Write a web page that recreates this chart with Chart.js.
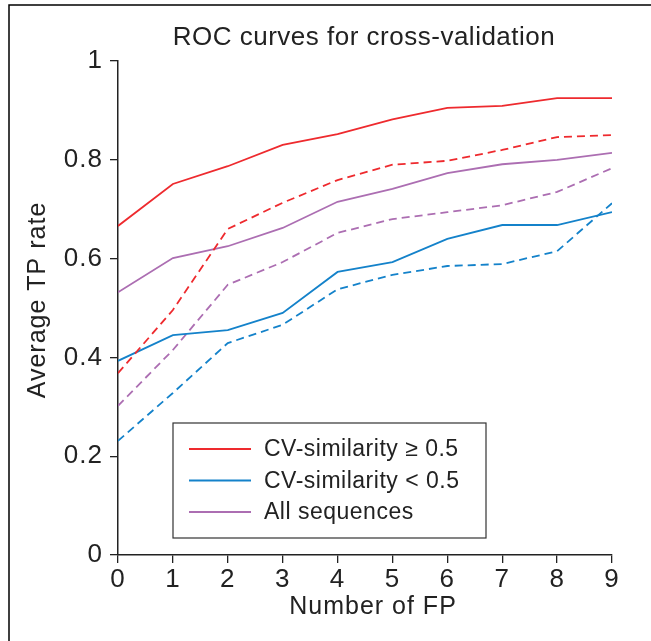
<!DOCTYPE html>
<html lang="en">
<head>
    <meta charset="UTF-8">
    <title>ROC curves for cross-validation</title>
    <style>
        body {
            margin: 0;
            padding: 0;
            background: #fff;
        }

        .wrap {
            width: 651px;
            height: 641px;
        }
    </style>
</head>
<body>
    <div class="wrap">
        <canvas id="roc" width="651" height="641"></canvas>
    </div>
    <script src="https://cdn.jsdelivr.net/npm/chart.js"></script>
    <script>
        const fpCounts = [0, 1, 2, 3, 4, 5, 6, 7, 8, 9];
        const yTicks = [0, 0.2, 0.4, 0.6, 0.8, 1];

        // solid = one validation set, dashed = the other
        const highSimSolid = [0.666, 0.751, 0.787, 0.830, 0.852, 0.882, 0.905, 0.909, 0.925, 0.925];
        const highSimDashed = [0.368, 0.496, 0.660, 0.713, 0.759, 0.790, 0.798, 0.820, 0.846, 0.850];
        const lowSimSolid = [0.393, 0.445, 0.455, 0.490, 0.573, 0.593, 0.640, 0.668, 0.668, 0.694];
        const lowSimDashed = [0.231, 0.328, 0.429, 0.466, 0.538, 0.567, 0.585, 0.589, 0.615, 0.712];
        const allSolid = [0.532, 0.601, 0.625, 0.662, 0.715, 0.741, 0.773, 0.791, 0.800, 0.814];
        const allDashed = [0.302, 0.415, 0.547, 0.593, 0.652, 0.680, 0.694, 0.708, 0.735, 0.783];

        const RED = 'rgb(238, 42, 46)';
        const BLUE = 'rgb(20, 130, 202)';
        const PURPLE = 'rgb(172, 110, 178)';
        const FONT = '"Liberation Sans", Arial, sans-serif';
        const INK = '#222';

        function series(label, values, color, dashed) {
            return {
                label: label,
                data: values.map((v, i) => ({ x: fpCounts[i], y: v })),
                borderColor: color,
                backgroundColor: color,
                borderWidth: 1.8,
                borderDash: dashed ? [8, 5] : [],
                pointRadius: 0,
                tension: 0,
                fill: false,
                showInLegend: !dashed
            };
        }

        const decorations = {
            id: 'decorations',
            beforeDraw(chart) {
                // slight extra tracking, as in the original figure
                chart.ctx.letterSpacing = '1px';
            },
            afterDraw(chart) {
                const ctx = chart.ctx;
                ctx.save();

                // figure frame (top and left only)
                ctx.strokeStyle = '#000';
                ctx.lineWidth = 1.5;
                ctx.beginPath();
                ctx.moveTo(9, 641);
                ctx.lineTo(9, 5);
                ctx.lineTo(651, 5);
                ctx.stroke();

                // title
                ctx.fillStyle = INK;
                ctx.font = '26px ' + FONT;
                ctx.letterSpacing = '0.5px';
                ctx.textAlign = 'center';
                ctx.textBaseline = 'middle';
                ctx.fillText('ROC curves for cross-validation', 364, 38);

                // axis titles
                ctx.font = '25px ' + FONT;
                ctx.letterSpacing = '1px';
                ctx.fillText('Number of FP', 373, 607);
                ctx.save();
                ctx.translate(38, 300);
                ctx.rotate(-Math.PI / 2);
                ctx.fillText('Average TP rate', 0, 0);
                ctx.restore();

                // legend
                const box = { x: 173, y: 423, w: 313, h: 115 };
                ctx.fillStyle = '#fff';
                ctx.fillRect(box.x, box.y, box.w, box.h);
                ctx.strokeStyle = '#333';
                ctx.lineWidth = 1.2;
                ctx.strokeRect(box.x, box.y, box.w, box.h);
                const shown = chart.data.datasets.filter(d => d.showInLegend);
                ctx.font = '23px ' + FONT;
                ctx.letterSpacing = '0.5px';
                ctx.textAlign = 'left';
                shown.forEach((d, i) => {
                    const y = box.y + 26 + i * 31.5;
                    ctx.strokeStyle = d.borderColor;
                    ctx.lineWidth = 1.8;
                    ctx.beginPath();
                    ctx.moveTo(189, y);
                    ctx.lineTo(251, y);
                    ctx.stroke();
                    ctx.fillStyle = INK;
                    ctx.fillText(d.label, 264, y + 1);
                });

                ctx.restore();
            }
        };

        new Chart(document.getElementById('roc').getContext('2d'), {
            type: 'line',
            data: {
                datasets: [
                    series('CV-similarity \u2265 0.5', highSimSolid, RED, false),
                    series('CV-similarity \u2265 0.5 (dashed)', highSimDashed, RED, true),
                    series('CV-similarity < 0.5', lowSimSolid, BLUE, false),
                    series('CV-similarity < 0.5 (dashed)', lowSimDashed, BLUE, true),
                    series('All sequences', allSolid, PURPLE, false),
                    series('All sequences (dashed)', allDashed, PURPLE, true)
                ]
            },
            options: {
                responsive: false,
                animation: false,
                layout: {
                    padding: { left: 0, top: 61, right: 39, bottom: 0 }
                },
                plugins: {
                    legend: { display: false },
                    title: { display: false },
                    tooltip: { enabled: false }
                },
                scales: {
                    x: {
                        type: 'linear',
                        min: 0,
                        max: 9,
                        afterFit(scale) { scale.height = 86; },
                        afterBuildTicks(scale) {
                            scale.ticks = fpCounts.map(v => ({ value: v }));
                        },
                        grid: {
                            drawOnChartArea: false,
                            drawTicks: true,
                            tickLength: 8,
                            color: INK,
                            lineWidth: 1.3
                        },
                        border: { color: INK, width: 1.5 },
                        ticks: {
                            color: INK,
                            padding: 1,
                            maxRotation: 0,
                            font: { family: FONT, size: 26 }
                        }
                    },
                    y: {
                        type: 'linear',
                        min: 0,
                        max: 1,
                        afterFit(scale) { scale.width = 118; },
                        afterBuildTicks(scale) {
                            scale.ticks = yTicks.map(v => ({ value: v }));
                        },
                        grid: {
                            drawOnChartArea: false,
                            drawTicks: true,
                            tickLength: 8,
                            color: INK,
                            lineWidth: 1.3
                        },
                        border: { color: INK, width: 1.5 },
                        ticks: {
                            color: INK,
                            padding: 7,
                            font: { family: FONT, size: 26 },
                            callback: v => (v === 0 || v === 1) ? String(v) : v.toFixed(1)
                        }
                    }
                }
            },
            plugins: [decorations]
        });
    </script>
</body>
</html>
